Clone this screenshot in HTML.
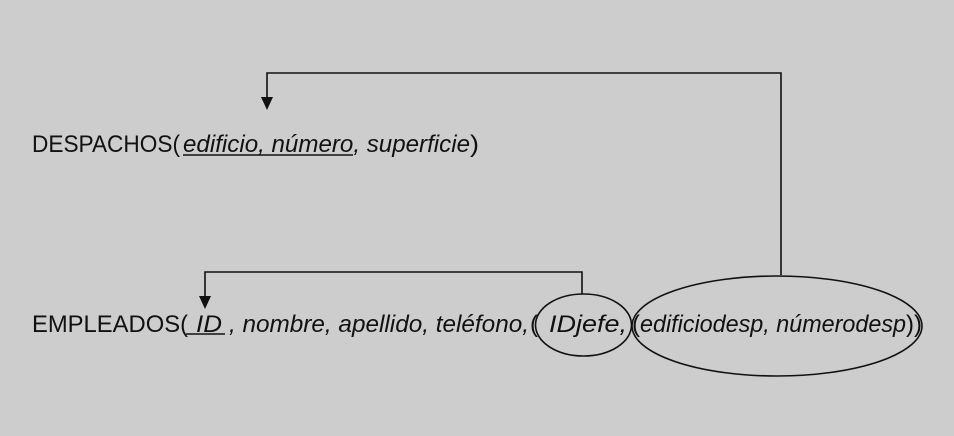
<!DOCTYPE html>
<html><head><meta charset="utf-8"><style>
html,body{margin:0;padding:0;background:#cdcdcd;}
svg{display:block}
text{font-family:"Liberation Sans",sans-serif;font-size:24px;fill:#111;}
.i{font-style:italic}
</style></head><body>
<svg width="954" height="436" viewBox="0 0 954 436">
<rect x="0" y="0" width="954" height="436" fill="#cdcdcd"/>
<g stroke="#111" stroke-width="1.6" fill="none">
<polyline points="781,275 781,73 267,73 267,98"/>
<polyline points="582,294 582,272 205,272 205,298"/>
<line x1="183" y1="155" x2="353" y2="155"/>
<line x1="186" y1="334" x2="225" y2="334"/>
<ellipse cx="583.5" cy="325" rx="48" ry="31"/>
<ellipse cx="777" cy="326" rx="145" ry="50"/>
</g>
<polygon points="261,97 273,97 267,110" fill="#111"/>
<polygon points="199,296 211,296 205,309" fill="#111"/>
<text x="32" y="152" textLength="148" lengthAdjust="spacingAndGlyphs">DESPACHOS(</text>
<text class="i" x="183" y="152" textLength="287" lengthAdjust="spacingAndGlyphs">edificio, número, superficie</text>
<text x="470" y="152" textLength="9" lengthAdjust="spacingAndGlyphs">)</text>
<text x="32" y="332" textLength="156" lengthAdjust="spacingAndGlyphs">EMPLEADOS(</text>
<text class="i" x="196" y="332" textLength="26" lengthAdjust="spacingAndGlyphs">ID</text>
<text class="i" x="229" y="332" textLength="300" lengthAdjust="spacingAndGlyphs">, nombre, apellido, teléfono,</text>
<text x="530" y="332" textLength="8" lengthAdjust="spacingAndGlyphs">(</text>
<text class="i" x="549" y="332" textLength="78" lengthAdjust="spacingAndGlyphs">IDjefe,</text>
<text x="632" y="332" textLength="8" lengthAdjust="spacingAndGlyphs">(</text>
<text class="i" x="640" y="332" textLength="266" lengthAdjust="spacingAndGlyphs">edificiodesp, númerodesp</text>
<text x="906" y="332" textLength="16" lengthAdjust="spacingAndGlyphs">))</text>
</svg>
</body></html>
